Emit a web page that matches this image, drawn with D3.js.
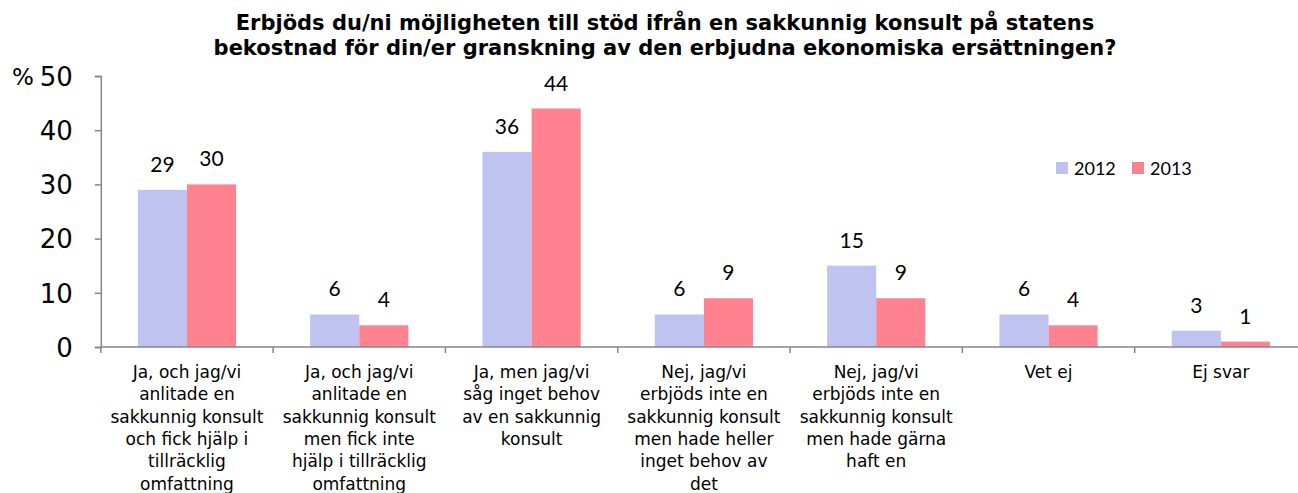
<!DOCTYPE html>
<html><head><meta charset="utf-8">
<script src="https://cdn.jsdelivr.net/npm/d3@7"></script>
<style>body{margin:0;background:#fff}svg{display:block}</style>
</head><body>
<script>
const categories = [
  ["Ja, och jag/vi","anlitade en","sakkunnig konsult","och fick hjälp i","tillräcklig","omfattning"],
  ["Ja, och jag/vi","anlitade en","sakkunnig konsult","men fick inte","hjälp i tillräcklig","omfattning"],
  ["Ja, men jag/vi","såg inget behov","av en sakkunnig","konsult"],
  ["Nej, jag/vi","erbjöds inte en","sakkunnig konsult","men hade heller","inget behov av","det"],
  ["Nej, jag/vi","erbjöds inte en","sakkunnig konsult","men hade gärna","haft en"],
  ["Vet ej"],
  ["Ej svar"]
];
const seriesNames = ["2012","2013"];
const values2012 = [29, 6, 36, 6, 15, 6, 3];
const values2013 = [30, 4, 44, 9, 9, 4, 1];
const yTicks = [0, 10, 20, 30, 40, 50];
const titleLines = ["Erbjöds du/ni möjligheten till stöd ifrån en sakkunnig konsult på statens","bekostnad för din/er granskning av den erbjudna ekonomiska ersättningen?"];
const colors = ["#BFC3EF", "#FF8291"];

const W = 1298, H = 493;
const svg = d3.select("body").append("svg").attr("width", W).attr("height", H);
const x = d3.scaleBand().domain(d3.range(categories.length)).range([100.8, 1307]);
const y = d3.scaleLinear().domain([0, 50]).range([347, 76]);
const barW = x.bandwidth() * 0.285;

// title
svg.append("text").attr("x", 665).attr("y", 30).attr("text-anchor","middle")
  .style("font-family","'DejaVu Sans', Verdana, sans-serif").style("font-weight","bold").style("font-size","21px")
  .selectAll("tspan").data(titleLines).join("tspan")
  .attr("x", 665).attr("dy", (d,i)=> i ? 24.5 : 0).text(d=>d);

// bars
const series = [values2012, values2013];
series.forEach((vals, s) => {
  const g = svg.append("g");
  g.selectAll("rect").data(vals).join("rect")
    .attr("x", (d,i)=> x(i) + x.bandwidth()/2 + (s-1)*barW)
    .attr("y", d=> y(d)).attr("width", barW).attr("height", d=> y(0)-y(d))
    .attr("fill", colors[s]);
  g.selectAll("text").data(vals).join("text")
    .attr("x", (d,i)=> x(i) + x.bandwidth()/2 + (s-0.5)*barW)
    .attr("y", d=> y(d) - 18).attr("text-anchor","middle")
    .style("font-family","Lato, 'Open Sans', sans-serif").style("font-size","21px").attr("fill","#000")
    .text(d=>d);
});

// y axis
const yAxis = svg.append("g").attr("transform","translate(100.8,0)")
  .call(d3.axisLeft(y).tickValues(yTicks).tickSize(6).tickPadding(22));
yAxis.select(".domain").attr("stroke","#868686").attr("stroke-width",1.5);
yAxis.selectAll(".tick line").attr("stroke","#868686").attr("stroke-width",1.5);
yAxis.selectAll(".tick text").style("font-family","'DejaVu Sans', Verdana, sans-serif").style("font-size","26px").attr("fill","#000").attr("dy","0.36em");
svg.append("text").attr("x", 12).attr("y", 85).style("font-family","'DejaVu Sans', Verdana, sans-serif").style("font-size","23px").text("%");

// x axis
const xAxisG = svg.append("g").attr("transform",`translate(0,${y(0)})`);
xAxisG.append("line").attr("x1",100.8).attr("x2",1307).attr("stroke","#868686").attr("stroke-width",1.5);
xAxisG.selectAll("line.tk").data(d3.range(categories.length+1)).join("line").attr("class","tk")
  .attr("x1", i=> i < categories.length ? x(i) : x(i-1)+x.bandwidth()).attr("x2", i=> i < categories.length ? x(i) : x(i-1)+x.bandwidth())
  .attr("y1",0).attr("y2",6).attr("stroke","#868686").attr("stroke-width",1.5);
const lab = svg.append("g").selectAll("text").data(categories).join("text")
  .attr("text-anchor","middle").attr("y", 378)
  .style("font-family","'DejaVu Sans', Verdana, sans-serif").style("font-size","17px").attr("fill","#000");
lab.each(function(lines, i){
  d3.select(this).selectAll("tspan").data(lines).join("tspan")
    .attr("x", x(i)+x.bandwidth()/2).attr("dy",(d,j)=> j ? 22.3 : 0).text(d=>d);
});

// legend
const leg = svg.append("g").attr("transform","translate(1056,162)");
seriesNames.forEach((n,i)=>{
  const gx = i*76;
  leg.append("rect").attr("x",gx).attr("y",0).attr("width",12).attr("height",12).attr("fill",colors[i]);
  leg.append("text").attr("x",gx+18).attr("y",12.5).style("font-family","Lato, 'Open Sans', sans-serif").style("font-size","18px").text(n);
});
</script>
</body></html>
